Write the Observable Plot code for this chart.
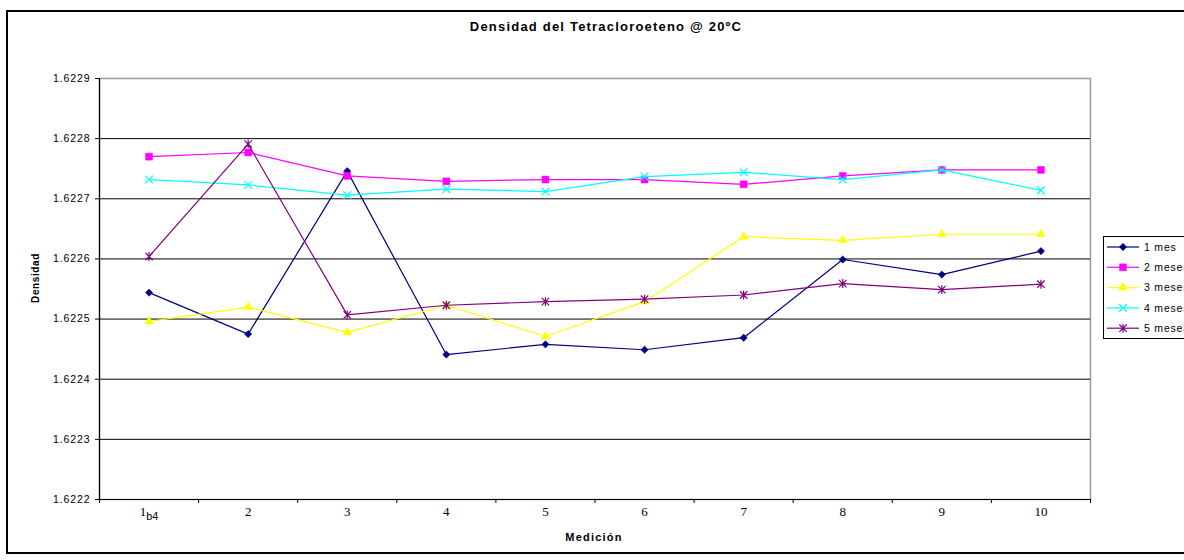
<!DOCTYPE html>
<html>
<head>
<meta charset="utf-8">
<script src="https://cdn.jsdelivr.net/npm/d3@7"></script>
<script src="https://cdn.jsdelivr.net/npm/@observablehq/plot@0.6"></script>
<style>
  html, body { margin: 0; padding: 0; background: #fff; }
  #chart { width: 1184px; height: 560px; overflow: hidden; }
  #chart svg { display: block; }
  #chart g[aria-label="y-axis tick label"] { font-size: 10.5px; letter-spacing: 0.9px; }
</style>
</head>
<body>
<div id="chart"></div>
<script>
// Measurement labels (x categories)
const mediciones = ["1b4", "2", "3", "4", "5", "6", "7", "8", "9", "10"];

// Series names
const series = ["1 mes", "2 meses", "3 meses", "4 meses", "5 meses"];

// Density readings per series (g/mL @ 20 ºC)
const mes1   = [1.622544, 1.622475, 1.622746, 1.622441, 1.622458, 1.622449, 1.622469, 1.622599, 1.622574, 1.622613];
const meses2 = [1.622770, 1.622777, 1.622738, 1.622729, 1.622732, 1.622732, 1.622724, 1.622738, 1.622748, 1.622748];
const meses3 = [1.622496, 1.622520, 1.622478, 1.622523, 1.622471, 1.622529, 1.622637, 1.622631, 1.622641, 1.622641];
const meses4 = [1.622732, 1.622723, 1.622706, 1.622716, 1.622712, 1.622737, 1.622744, 1.622732, 1.622748, 1.622714];
const meses5 = [1.622604, 1.622791, 1.622507, 1.622523, 1.622529, 1.622533, 1.622540, 1.622559, 1.622549, 1.622558];

// Y axis ticks
const yTicks = [1.6222, 1.6223, 1.6224, 1.6225, 1.6226, 1.6227, 1.6228, 1.6229];

const valores = [mes1, meses2, meses3, meses4, meses5];
const colores = ["#000080", "#FF00FF", "#FFFF00", "#00FFFF", "#800080"];

// Excel-style "star" marker: a cross with a vertical bar
const excelStar = {
  draw(ctx, size) {
    const r = Math.sqrt(size) * 0.5;
    ctx.moveTo(-r, -r); ctx.lineTo(r, r);
    ctx.moveTo(r, -r); ctx.lineTo(-r, r);
    ctx.moveTo(0, -r * 1.2); ctx.lineTo(0, r * 1.2);
  }
};

const marcadores = [
  {symbol: "diamond2", r: 3.3, filled: true},
  {symbol: "square", r: 3.9, filled: true},
  {symbol: "triangle", r: 3.2, filled: true},
  {symbol: "times", r: 3.6, filled: false},
  {symbol: excelStar, r: 4.2, filled: false}
];

const filas = series.flatMap((s, k) =>
  valores[k].map((v, i) => ({serie: s, k, i: i + 1, v}))
);

const idx = mediciones.map((_, i) => i + 1);
const limites = d3.range(mediciones.length + 1).map(i => i + 0.5);
const xDom = [limites[0], limites[limites.length - 1]];
const yDom = [yTicks[0], yTicks[yTicks.length - 1]];

const serieMarks = series.flatMap((s, k) => {
  const d = filas.filter(r => r.k === k);
  const m = marcadores[k];
  return [
    Plot.line(d, {x: "i", y: "v", stroke: colores[k], strokeWidth: 1.2}),
    Plot.dot(d, {
      x: "i", y: "v", symbol: () => m.symbol, r: m.r,
      fill: m.filled ? colores[k] : "none",
      stroke: colores[k], strokeWidth: m.filled ? 0.5 : 1.2
    })
  ];
});

const plot = Plot.plot({
  width: 1184,
  height: 560,
  marginLeft: 99,
  marginRight: 94,
  marginTop: 78,
  marginBottom: 61,
  x: {type: "linear", domain: xDom},
  y: {type: "linear", domain: yDom},
  symbol: {type: "identity"},
  style: {background: "white", fontFamily: "'Liberation Sans', Arial, sans-serif", color: "#000"},
  marks: [
    Plot.frame({stroke: "#9a9a9a", strokeWidth: 1.5}),
    Plot.ruleY(yTicks.slice(1, -1), {stroke: "#000", strokeWidth: 1}),
    Plot.ruleY([yDom[0]], {stroke: "#000", strokeWidth: 1.2}),
    Plot.ruleX([xDom[0]], {stroke: "#000", strokeWidth: 1.2}),
    Plot.axisY({
      ticks: yTicks, tickFormat: d => d.toFixed(4), tickSize: 4, tickPadding: 5,
      label: null, stroke: "#000"
    }),
    Plot.axisX({
      ticks: limites, tickFormat: () => "", tickSize: 4, label: null, stroke: "#000"
    }),
    Plot.axisX({
      ticks: idx, tickFormat: i => mediciones[i - 1], tickSize: 0, tickPadding: 7,
      fontSize: 13, fontFamily: "'Liberation Serif', 'Times New Roman', serif", label: null
    }),
    ...serieMarks
  ]
});

document.getElementById("chart").appendChild(plot);

const svg = d3.select(plot);

// "1b4" tick label: subscript part
svg.selectAll("text").each(function () {
  if (this.textContent === "1b4") {
    const t = d3.select(this);
    t.text("1");
    t.append("tspan")
      .attr("dy", "4")
      .attr("font-family", "'Liberation Sans', Arial, sans-serif")
      .attr("font-size", 11)
      .text("b4");
  }
});

// Outer chart border
svg.append("rect")
  .attr("x", 7).attr("y", 11).attr("width", 1200).attr("height", 542)
  .attr("fill", "none").attr("stroke", "#000").attr("stroke-width", 2);

// Title and axis titles
svg.append("text")
  .attr("x", 606).attr("y", 31)
  .attr("text-anchor", "middle")
  .attr("font-size", 13).attr("font-weight", "bold")
  .attr("letter-spacing", "1.2px")
  .attr("fill", "#000")
  .text("Densidad del Tetracloroeteno @ 20ºC");

svg.append("text")
  .attr("x", 594).attr("y", 541)
  .attr("text-anchor", "middle")
  .attr("font-size", 11).attr("font-weight", "bold")
  .attr("letter-spacing", "1.2px")
  .attr("fill", "#000")
  .text("Medición");

svg.append("text")
  .attr("transform", "translate(35,278) rotate(-90)")
  .attr("dy", "0.35em")
  .attr("text-anchor", "middle")
  .attr("font-size", 10).attr("font-weight", "bold")
  .attr("letter-spacing", "0.6px")
  .attr("fill", "#000")
  .text("Densidad");

// Legend
const leg = svg.append("g");
leg.append("rect")
  .attr("x", 1103.5).attr("y", 236.5).attr("width", 120).attr("height", 102)
  .attr("fill", "white").attr("stroke", "#000").attr("stroke-width", 1);

const d3Sym = [d3.symbolDiamond2, d3.symbolSquare, d3.symbolTriangle, d3.symbolTimes, excelStar];
series.forEach((s, k) => {
  const cy = 247 + k * 20.3;
  const m = marcadores[k];
  leg.append("line")
    .attr("x1", 1107).attr("x2", 1139).attr("y1", cy).attr("y2", cy)
    .attr("stroke", colores[k]).attr("stroke-width", 1.2);
  leg.append("path")
    .attr("transform", `translate(1123,${cy})`)
    .attr("d", d3.symbol(d3Sym[k], Math.PI * m.r * m.r)())
    .attr("fill", m.filled ? colores[k] : "none")
    .attr("stroke", colores[k])
    .attr("stroke-width", m.filled ? 0.5 : 1.2);
  leg.append("text")
    .attr("x", 1144).attr("y", cy + 3.6)
    .attr("text-anchor", "start")
    .attr("font-size", 10.5).attr("letter-spacing", "0.8px")
    .attr("fill", "#000")
    .text(s);
});
</script>
</body>
</html>
